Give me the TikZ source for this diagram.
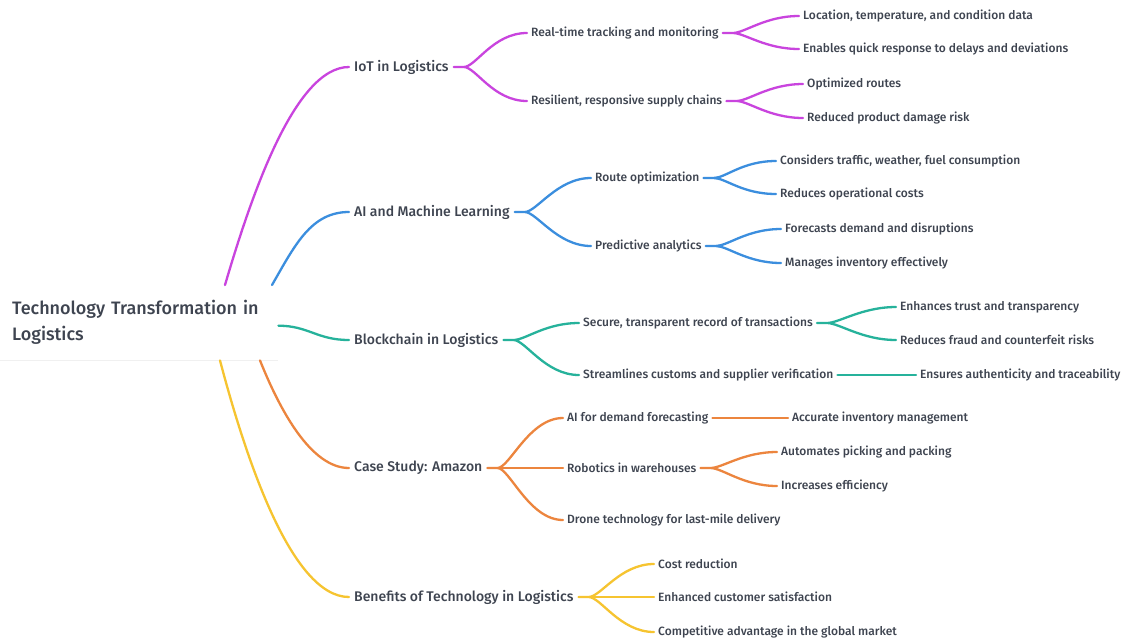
\documentclass[tikz,border=0pt]{standalone}
\usepackage{fontspec}
\setmainfont{Fira Sans}[UprightFont={* Medium}]
\usetikzlibrary{calc}
\definecolor{cmag}{RGB}{201,68,222}
\definecolor{cblue}{RGB}{59,142,222}
\definecolor{cteal}{RGB}{38,178,155}
\definecolor{corange}{RGB}{236,133,62}
\definecolor{cyellow}{RGB}{246,196,48}
\definecolor{ctext}{RGB}{62,68,80}
\begin{document}
\begin{tikzpicture}[x=1pt,y=-1pt,
  txt/.style={anchor=west, inner xsep=4pt, inner ysep=2pt, text=ctext, font=\fontsize{12}{14}\selectfont},
  lone/.style={txt, inner xsep=5pt, font=\fontsize{14}{16}\selectfont},
  rootbox/.style={anchor=north west, fill=white, text=ctext, align=left, text width=254pt, inner xsep=12pt, minimum height=75pt, font=\fontsize{18}{26}\selectfont},
  link/.style={line width=2.3pt, line cap=round},
  fork/.style={to path={-- ++(10,0) .. controls +(12,0) and +(-34,0) .. (\tikztotarget)}},
]
\useasboundingbox (0,0) rectangle (1124,638);
\fill[white] (0,0) rectangle (1124,638);

% root
\node[rootbox] (root) at (0,285) {Technology Transformation in Logistics};
\draw[black!6, line width=1pt] (root.south west) -- (root.south east);

% level 1
\node[lone] (iot) at (349,67) {IoT in Logistics};
\node[lone] (ai) at (349,212) {AI and Machine Learning};
\node[lone] (bc) at (349,340) {Blockchain in Logistics};
\node[lone] (cs) at (349,468) {Case Study: Amazon};
\node[lone] (ben) at (349,597) {Benefits of Technology in Logistics};

% level 2
\node[txt] (rt) at (527,33) {Real-time tracking and monitoring};
\node[txt] (rs) at (527,101) {Resilient, responsive supply chains};
\node[txt] (ro) at (591,178) {Route optimization};
\node[txt] (pa) at (591,246) {Predictive analytics};
\node[txt] (sec) at (579,323) {Secure, transparent record of transactions};
\node[txt] (str) at (579,375) {Streamlines customs and supplier verification};
\node[txt] (aif) at (563,418) {AI for demand forecasting};
\node[txt] (rob) at (563,468) {Robotics in warehouses};
\node[txt] (dro) at (563,520) {Drone technology for last-mile delivery};
\node[txt] (cost) at (654,564) {Cost reduction};
\node[txt] (enh) at (654,597) {Enhanced customer satisfaction};
\node[txt] (comp) at (654,632) {Competitive advantage in the global market};

% level 3
\node[txt] (loc) at (799,16) {Location, temperature, and condition data};
\node[txt] (enq) at (799,49) {Enables quick response to delays and deviations};
\node[txt] (opt) at (803,84) {Optimized routes};
\node[txt] (red) at (803,118) {Reduced product damage risk};
\node[txt] (con) at (776,161) {Considers traffic, weather, fuel consumption};
\node[txt] (roc) at (776,194) {Reduces operational costs};
\node[txt] (fore) at (781,229) {Forecasts demand and disruptions};
\node[txt] (man) at (781,263) {Manages inventory effectively};
\node[txt] (ent) at (896,307) {Enhances trust and transparency};
\node[txt] (rff) at (896,340) {Reduces fraud and counterfeit risks};
\node[txt] (ens) at (916,375) {Ensures authenticity and traceability};
\node[txt] (acc) at (788,418) {Accurate inventory management};
\node[txt] (aut) at (777,452) {Automates picking and packing};
\node[txt] (inc) at (777,486) {Increases efficiency};

% root -> level 1
\draw[link,cmag] ($(root.north west)+(225,0)$) .. controls +(25,-85) and +(-55,0) .. (iot.west);
\draw[link,cblue] ($(root.north west)+(272,0)$) .. controls +(23,-40) and +(-38,0) .. (ai.west);
\draw[link,cteal] ($(root.east)+(0,3)$) .. controls +(30,0) and +(-32,0) .. (bc.west);
\draw[link,corange] ($(root.south west)+(260,0)$) .. controls +(20,50) and +(-38,0) .. (cs.west);
\draw[link,cyellow] ($(root.south west)+(220,0)$) .. controls +(25,95) and +(-58,0) .. (ben.west);

% IoT
\draw[link,cmag] (iot.east) to[fork] (rt.west) (iot.east) to[fork] (rs.west);
\draw[link,cmag] (rt.east) to[fork] (loc.west) (rt.east) to[fork] (enq.west);
\draw[link,cmag] (rs.east) to[fork] (opt.west) (rs.east) to[fork] (red.west);
% AI
\draw[link,cblue] (ai.east) to[fork] (ro.west) (ai.east) to[fork] (pa.west);
\draw[link,cblue] (ro.east) to[fork] (con.west) (ro.east) to[fork] (roc.west);
\draw[link,cblue] (pa.east) to[fork] (fore.west) (pa.east) to[fork] (man.west);
% Blockchain
\draw[link,cteal] (bc.east) to[fork] (sec.west) (bc.east) to[fork] (str.west);
\draw[link,cteal] (sec.east) to[fork] (ent.west) (sec.east) to[fork] (rff.west);
\draw[link,cteal] (str.east) -- (ens.west);
% Case study
\draw[link,corange] (cs.east) to[fork] (aif.west) (cs.east) to[fork] (dro.west);
\draw[link,corange] (cs.east) -- (rob.west);
\draw[link,corange] (aif.east) -- (acc.west);
\draw[link,corange] (rob.east) to[fork] (aut.west) (rob.east) to[fork] (inc.west);
% Benefits
\draw[link,cyellow] (ben.east) to[fork] (cost.west) (ben.east) to[fork] (comp.west);
\draw[link,cyellow] (ben.east) -- (enh.west);
\end{tikzpicture}
\end{document}
